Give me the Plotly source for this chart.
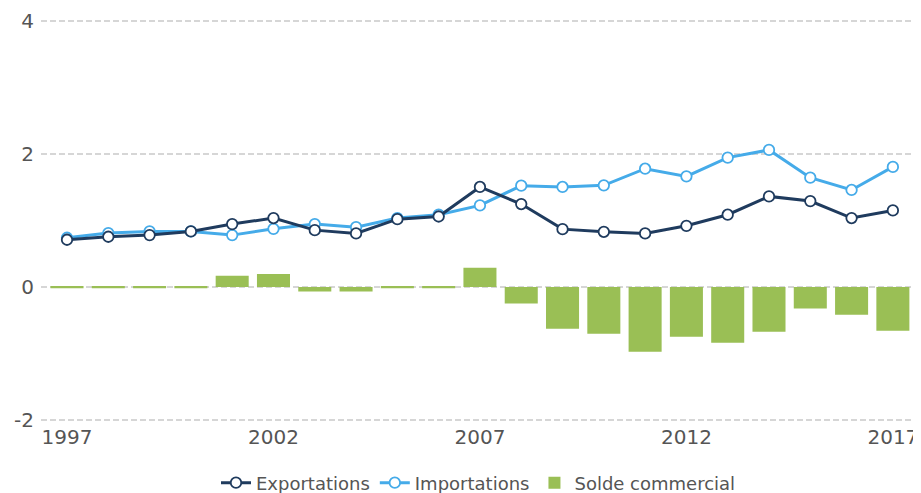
import plotly.graph_objects as go

years = list(range(1997, 2018))
exportations = [0.71, 0.755, 0.78, 0.835, 0.946, 1.037, 0.855, 0.805, 1.02, 1.06, 1.505,
                1.248, 0.87, 0.83, 0.805, 0.92, 1.087, 1.363, 1.293, 1.037, 1.152]
importations = [0.74, 0.81, 0.835, 0.835, 0.78, 0.875, 0.946, 0.90, 1.037, 1.087, 1.227,
                1.525, 1.505, 1.53, 1.78, 1.665, 1.947, 2.063, 1.645, 1.46, 1.807]
solde = [-0.02, -0.02, -0.02, -0.02, 0.166, 0.196, -0.07, -0.07, -0.02, -0.02, 0.29,
         -0.25, -0.63, -0.705, -0.976, -0.75, -0.84, -0.675, -0.327, -0.418, -0.66]
tick_years = [1997, 2002, 2007, 2012, 2017]
y_ticks = [-2, 0, 2, 4]

DARK = "#1f3b5e"
LIGHT = "#45abe9"
GREEN = "#9abf55"
FONT = "DejaVu Sans"

fig = go.Figure()
fig.add_trace(go.Bar(x=years, y=solde, name="Solde commercial", marker_color=GREEN,
                     marker_line_width=0, width=0.8))
fig.add_trace(go.Scatter(x=years, y=importations, name="Importations", mode="lines+markers",
                         line=dict(color=LIGHT, width=3),
                         marker=dict(size=10.5, color="white", line=dict(color=LIGHT, width=1.8))))
fig.add_trace(go.Scatter(x=years, y=exportations, name="Exportations", mode="lines+markers",
                         line=dict(color=DARK, width=3),
                         marker=dict(size=10.5, color="white", line=dict(color=DARK, width=1.8))))

fig.add_shape(type="line", xref="paper", yref="y", x0=0, x1=1, y0=0, y1=0,
              line=dict(color="#b3b3b3", width=1.5, dash="6px,3px"), layer="below")

# page body has an 8px margin, so the figure is sized to fit the 921x493 window
fig.update_layout(
    width=913, height=485,
    margin=dict(l=33, r=5, t=10, b=70, autoexpand=False),
    plot_bgcolor="white", paper_bgcolor="white",
    font=dict(family=FONT, color="#555555"),
    showlegend=True,
    legend=dict(orientation="h", x=0.5, xanchor="center", xref="paper",
                y=10 / 485, yanchor="middle", yref="container", traceorder="reversed",
                font=dict(size=18, color="#555555")),
    hovermode=False,
)
fig.update_xaxes(range=[1996.37, 2017.56], tickmode="array", tickvals=tick_years,
                 ticktext=[str(y) for y in tick_years], showgrid=False, zeroline=False,
                 showline=False, ticks="", automargin=False,
                 tickfont=dict(size=20, color="#555555"))
fig.update_yaxes(range=[-2.05, 4.05], tickmode="array", tickvals=y_ticks,
                 ticktext=[str(v) for v in y_ticks], showgrid=True, gridcolor="#d6d6d6",
                 griddash="6px,3px", gridwidth=1.5, zeroline=False, showline=False, ticks="",
                 automargin=False, tickfont=dict(size=20, color="#555555"),
                 ticklabelstandoff=6)

fig.write_html("out.html")
